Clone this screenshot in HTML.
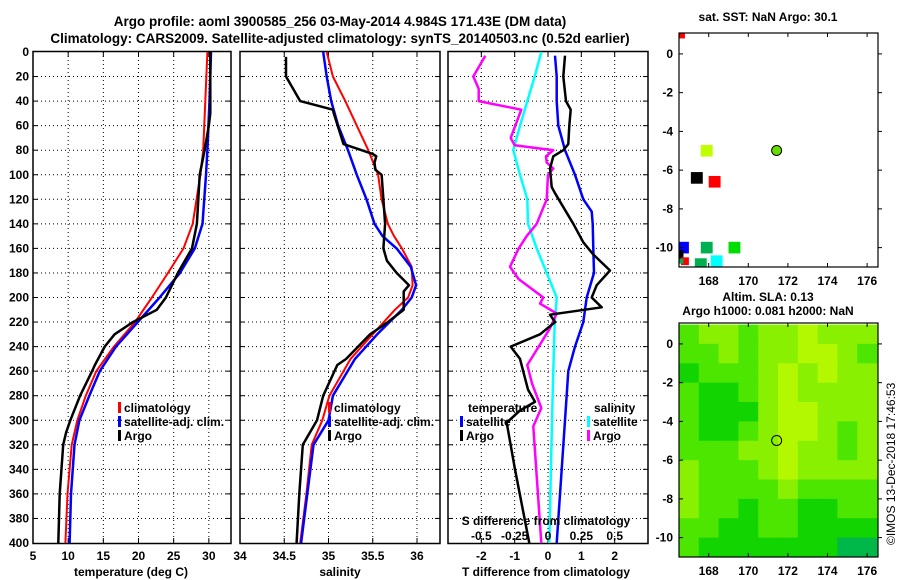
<!DOCTYPE html>
<html><head><meta charset="utf-8">
<style>
html,body{margin:0;padding:0;background:#fff;}
svg{display:block;font-family:"Liberation Sans",Arial,sans-serif;font-weight:bold;}
text{fill:#000;}
</style></head>
<body>
<svg id="c" width="900" height="580" xmlns="http://www.w3.org/2000/svg">
<text x="340" y="26" font-size="13.5" text-anchor="middle">Argo profile: aoml 3900585_256 03-May-2014 4.984S 171.43E (DM data)</text>
<text x="340" y="43" font-size="13.5" text-anchor="middle">Climatology: CARS2009. Satellite-adjusted climatology: synTS_20140503.nc (0.52d earlier)</text>
<text x="768" y="21" font-size="12" text-anchor="middle">sat. SST: NaN Argo: 30.1</text>
<text x="768" y="301" font-size="12" text-anchor="middle">Altim. SLA: 0.13</text>
<text x="768" y="315" font-size="12" text-anchor="middle">Argo h1000: 0.081 h2000: NaN</text>
<text transform="translate(895,545) rotate(-90)" font-size="12" font-weight="normal">©IMOS 13-Dec-2018 17:46:53</text>
</svg>
<script>
// ---- data ----
const depthT_argo = [0,50,60,80,100,140,160,180,200,210,220,230,240,255,260,280,300,310,320,360,400];
const temp_argo   = [30.2,30.2,30.0,29.4,28.7,28.3,27.6,25.6,23.9,22.6,19.2,16.6,15.2,13.8,13.4,11.7,10.3,9.7,9.3,8.8,8.6];
const depthT_clim = [0,40,80,100,140,160,180,200,220,240,260,280,300,320,360,400];
const temp_clim   = [29.8,29.5,29.2,28.8,27.7,26.4,24.2,21.9,19.5,16.5,14.0,12.5,11.3,10.5,9.9,9.6];
const temp_sat    = [30.3,30.1,29.8,29.6,29.1,28.0,25.9,23.0,19.9,16.8,14.5,13.0,11.6,10.9,10.4,10.2];

const depthS_argo = [4,20,30,40,47,50,75,83,85,90,96,100,120,140,160,170,180,190,195,200,210,220,230,250,255,280,300,320,360,400];
const sal_argo    = [34.52,34.52,34.6,34.68,35.05,35.06,35.17,35.5,35.54,35.52,35.53,35.6,35.62,35.64,35.62,35.66,35.77,35.91,35.85,35.85,35.85,35.67,35.47,35.2,35.1,34.94,34.87,34.71,34.67,34.64];
const depthS_clim = [0,20,40,60,80,100,120,140,150,160,175,190,200,210,230,250,280,300,320,360,400];
const sal_clim    = [34.98,35.05,35.19,35.32,35.45,35.56,35.6,35.67,35.74,35.83,35.94,35.95,35.9,35.75,35.5,35.25,35.01,34.93,34.81,34.75,34.68];
const sal_sat     = [34.94,34.98,35.03,35.11,35.22,35.32,35.43,35.52,35.61,35.77,35.93,35.99,35.94,35.83,35.55,35.3,35.05,35.0,34.83,34.76,34.69];

const depthDT_argo = [3,20,40,47,60,75,80,85,95,110,115,140,155,165,178,190,200,208,214,220,230,240,250,275,285,292,302,340,400];
const dT_argo      = [0.51,0.46,0.54,0.68,0.64,0.61,0.46,0.16,0.06,0.11,0.21,0.76,1.06,1.36,1.86,1.46,1.31,1.61,0.06,0.21,-0.24,-1.12,-0.84,-0.6,-0.39,-0.84,-1.24,-0.99,-0.56];
const depthDT_sat  = [3,20,40,60,70,80,100,120,130,140,160,180,200,220,240,260,300,340,400];
const dT_sat       = [0.21,0.26,0.26,0.31,0.41,0.51,0.81,1.06,1.31,1.34,1.36,1.38,1.16,1.06,0.81,0.61,0.51,0.41,0.26];
const depthDS_sat  = [0,20,40,60,80,100,120,140,160,180,200,220,260,300,400];
const dS_sat       = [-0.05,-0.1,-0.155,-0.21,-0.26,-0.21,-0.155,-0.15,-0.085,-0.01,0.065,0.05,0.04,0.03,0.01];
const depthDS_argo = [3,20,30,40,47,70,76,80,85,90,95,100,120,140,150,160,175,185,200,205,213,225,240,255,270,290,305,400];
const dS_argo      = [-0.47,-0.56,-0.52,-0.52,-0.2,-0.28,-0.25,0.04,-0.015,-0.01,0.04,0,-0.01,-0.085,-0.16,-0.22,-0.285,-0.22,-0.035,-0.06,0.065,0.015,-0.07,-0.155,-0.12,-0.05,-0.11,-0.05];

const depthTicks = [0,20,40,60,80,100,120,140,160,180,200,220,240,260,280,300,320,340,360,380,400];
const tempTicks = [5,10,15,20,25,30];
const salTicks = [34,34.5,35,35.5,36];
const salTickLabels = ['34','34.5','35','35.5','36'];
const dTTicks = [-2,-1,0,1,2];
const dSTicks = [-0.5,-0.25,0,0.25,0.5];
const dSTickLabels = ['-0.5','-0.25','0','0.25','0.5'];

const lonTicks = [168,170,172,174,176];
const latTicks = [0,-2,-4,-6,-8,-10];
// SLA field, 1-degree cells, rows lat 1..-11, cols lon 166.5..176.5 (levels)
const slaGrid = [
 [1,2,2,1,2,2,3,2,2,2],
 [1,1,2,1,2,2,3,3,2,1],
 [0,1,1,1,2,3,2,3,2,2],
 [1,0,0,1,2,3,2,2,2,2],
 [1,0,0,0,2,3,3,2,2,2],
 [1,0,0,1,2,3,3,2,1,2],
 [1,1,1,2,2,3,2,2,1,2],
 [2,1,1,1,2,3,2,2,2,2],
 [2,1,1,1,1,2,1,1,1,1],
 [2,1,1,0,1,1,0,0,1,1],
 [1,1,0,0,1,1,0,0,0,0],
 [1,0,0,0,0,0,0,0,-1,-1]
];
// SST map observation squares: lon, lat, size(deg), color
const sstLon = [167.9,167.4,168.3,166.7,166.5,167.9,169.3,168.4,166.8,166.6,167.6,166.6];
const sstLat = [-5.0,-6.4,-6.6,-10.0,-10.35,-10.0,-10.0,-10.7,-10.7,-10.7,-10.85,1.0];
const sstSize= [0.6,0.6,0.6,0.6,0.45,0.6,0.6,0.6,0.4,0.25,0.6,0.4];
const sstCol = ['#bfff00','#000','#f00','#0000ff','#000','#00b050','#00dd00','#00ffff','#f00','#00b050','#00b050','#f00'];
const argoLon = 171.43, argoLat = -4.984;

// ---- drawing ----
const NS='http://www.w3.org/2000/svg';
const svg=document.getElementById('c');
function el(tag,attrs,parent){const e=document.createElementNS(NS,tag);for(const k in attrs)e.setAttribute(k,attrs[k]);(parent||svg).appendChild(e);return e;}

const Y0=52, Y1=543;
function yD(d){return Y0+(Y1-Y0)*d/400;}

function panel(name,x0,x1,vmin,vmax,gridVals){
  const g=el('g',{});
  
  
  const sx=v=>x0+(x1-x0)*(v-vmin)/(vmax-vmin);
  depthTicks.forEach(d=>{ if(d>0&&d<400){const l=el('line',{x1:x0,x2:x1,y1:yD(d),y2:yD(d),stroke:'#000','stroke-width':1,'stroke-dasharray':'1,3'},g);
    
    
    el('line',{x1:x0,x2:x0+5,y1:yD(d),y2:yD(d),stroke:'#000'},g);el('line',{x1:x1-5,x2:x1,y1:yD(d),y2:yD(d),stroke:'#000'},g);}});
  gridVals.forEach(v=>{const x=sx(v); if(x>x0+1&&x<x1-1){const l=el('line',{x1:x,x2:x,y1:Y0,y2:Y1,stroke:'#000','stroke-width':1,'stroke-dasharray':'1,3'},g);
    
    
    el('line',{x1:x,x2:x,y1:Y1-5,y2:Y1,stroke:'#000'},g);el('line',{x1:x,x2:x,y1:Y0,y2:Y0+5,stroke:'#000'},g);}});
  const r=el('rect',{x:x0,y:Y0-0.5,width:x1-x0,height:Y1-Y0+1,fill:'none',stroke:'#000','stroke-width':1.5},g);
  
  
  return {g,sx};
}
function line(p,vals,depths,col,w,name){
  const pts=vals.map((v,i)=>p.sx(v).toFixed(1)+','+yD(depths[i]).toFixed(1)).join(' ');
  const l=el('polyline',{points:pts,fill:'none',stroke:col,'stroke-width':w,'stroke-linejoin':'round'},p.g);
  
  
}
function txt(s,x,y,opts,name){const t=el('text',Object.assign({x:x,y:y,'font-size':12},opts||{}));t.textContent=s;
  
  
  return t;}
function legendEntry(x,y,col,label){
  const r=el('rect',{x:x,y:y-10,width:3,height:11,fill:col});
  
  
  txt(label,x+6,y,{},'legend-entry');
}

// panel 1 temperature
const p1=panel('temperature-panel',33,231,5,33.15,tempTicks);
line(p1,temp_clim,depthT_clim,'#f00',2,'climatology-temp-line');
line(p1,temp_sat,depthT_clim,'#00f',2.5,'satellite-temp-line');
line(p1,temp_argo,depthT_argo,'#000',2.5,'argo-temp-line');
depthTicks.forEach(d=>txt(String(d),29,yD(d)+4,{'text-anchor':'end'},'y-tick-label'));
tempTicks.forEach(v=>txt(String(v),p1.sx(v),560,{'text-anchor':'middle'},'x-tick-label'));
txt('temperature (deg C)',131,576,{'text-anchor':'middle'},'x-axis-title');
legendEntry(118,412,'#f00','climatology');
legendEntry(118,426,'#00f','satellite-adj. clim.');
legendEntry(118,440,'#000','Argo');

// panel 2 salinity
const p2=panel('salinity-panel',240,440,34,36.26,salTicks);
line(p2,sal_clim,depthS_clim,'#f00',2,'climatology-salinity-line');
line(p2,sal_sat,depthS_clim,'#00f',2.5,'satellite-salinity-line');
line(p2,sal_argo,depthS_argo,'#000',2.5,'argo-salinity-line');
salTicks.forEach((v,i)=>txt(salTickLabels[i],p2.sx(v),560,{'text-anchor':'middle'},'x-tick-label'));
txt('salinity',340,576,{'text-anchor':'middle'},'x-axis-title');
legendEntry(328,412,'#f00','climatology');
legendEntry(328,426,'#00f','satellite-adj. clim.');
legendEntry(328,440,'#000','Argo');

// panel 3 differences
const p3=panel('difference-panel',448,648,-3,3,dTTicks);
const sS=v=>p3.sx(v*4);
const pS={g:p3.g,sx:sS};
line(pS,dS_sat,depthDS_sat,'#0ff',2.5,'satellite-salinity-diff-line');
line(pS,dS_argo,depthDS_argo,'#f0f',2.5,'argo-salinity-diff-line');
line(p3,dT_sat,depthDT_sat,'#00f',2.5,'satellite-temp-diff-line');
line(p3,dT_argo,depthDT_argo,'#000',2.5,'argo-temp-diff-line');
dTTicks.forEach(v=>txt(String(v),p3.sx(v),560,{'text-anchor':'middle'},'x-tick-label'));
txt('T difference from climatology',546,576,{'text-anchor':'middle'},'x-axis-title');
txt('S difference from climatology',546,525,{'text-anchor':'middle'},'s-axis-title');
dSTicks.forEach((v,i)=>txt(dSTickLabels[i],sS(v),540,{'text-anchor':'middle'},'s-tick-label'));
txt('temperature',468,412,{},'legend-heading');
legendEntry(460,426,'#00f','satellite');
legendEntry(460,440,'#000','Argo');
txt('salinity',594,412,{},'legend-heading');
legendEntry(587,426,'#0ff','satellite');
legendEntry(587,440,'#f0f','Argo');

// maps
const LON0=166.5, LON1=176.55, LAT0=1.08, LAT1=-11;
function map(name,top,bot){
  const L=679,R=878;
  const g=el('g',{});
  
  
  const mx=lon=>L+(R-L)*(lon-LON0)/(LON1-LON0);
  const my=lat=>top+(bot-top)*(LAT0-lat)/(LAT0-LAT1);
  return {g,mx,my,L,R,top,bot};
}
function mapFrame(m){
  lonTicks.forEach(v=>{const x=m.mx(v);el('line',{x1:x,x2:x,y1:m.bot,y2:m.bot-4,stroke:'#000'},m.g);el('line',{x1:x,x2:x,y1:m.top,y2:m.top+4,stroke:'#000'},m.g);
    txt(String(v),x,m.bot+18,{'text-anchor':'middle'},'lon-tick-label');});
  latTicks.forEach(v=>{const y=m.my(v);el('line',{x1:m.L,x2:m.L+4,y1:y,y2:y,stroke:'#000'},m.g);el('line',{x1:m.R,x2:m.R+4,y1:y,y2:y,stroke:'#000'},m.g);
    txt(String(v),673,y+4,{'text-anchor':'end'},'lat-tick-label');});
  const r=el('rect',{x:m.L,y:m.top,width:m.R-m.L,height:m.bot-m.top,fill:'none',stroke:'#000','stroke-width':1.2},m.g);
  
  
}
const m1=map('sst-map',33,267);
sstLon.forEach((lon,i)=>{const s=sstSize[i];
  let x=m1.mx(lon-s/2), y=m1.my(sstLat[i]+s/2), w=m1.mx(lon+s/2)-x, h=m1.my(sstLat[i]-s/2)-y;
  if(x<m1.L){w-=m1.L-x;x=m1.L;} if(y<m1.top){h-=m1.top-y;y=m1.top;} if(y+h>m1.bot)h=m1.bot-y;
  const r=el('rect',{x:x,y:y,width:w,height:h,fill:sstCol[i]},m1.g);
  
  
});
const c1=el('circle',{cx:m1.mx(argoLon),cy:m1.my(argoLat),r:5,fill:'#66dd00',stroke:'#000','stroke-width':1},m1.g);


mapFrame(m1);

const m2=map('sla-map',323,557);
const levelCol={'-1':'#00b84a','0':'#11d400','1':'#4ce600','2':'#88f000','3':'#b4f800'};
slaGrid.forEach((row,j)=>row.forEach((v,i)=>{
  const x=m2.mx(LON0+i), y=m2.my(LAT0-0.08-j);
  const x2=m2.mx(LON0+i+1), y2=m2.my(LAT0-0.08-j-1);
  const r=el('rect',{x:x,y:Math.max(y,m2.top),width:x2-x+0.5,height:Math.min(y2,m2.bot)-Math.max(y,m2.top)+0.5,fill:levelCol[String(v)]},m2.g);
  
  
}));
const c2=el('circle',{cx:m2.mx(argoLon),cy:m2.my(argoLat),r:5,fill:'none',stroke:'#000','stroke-width':1},m2.g);


mapFrame(m2);
</script>
</body></html>
